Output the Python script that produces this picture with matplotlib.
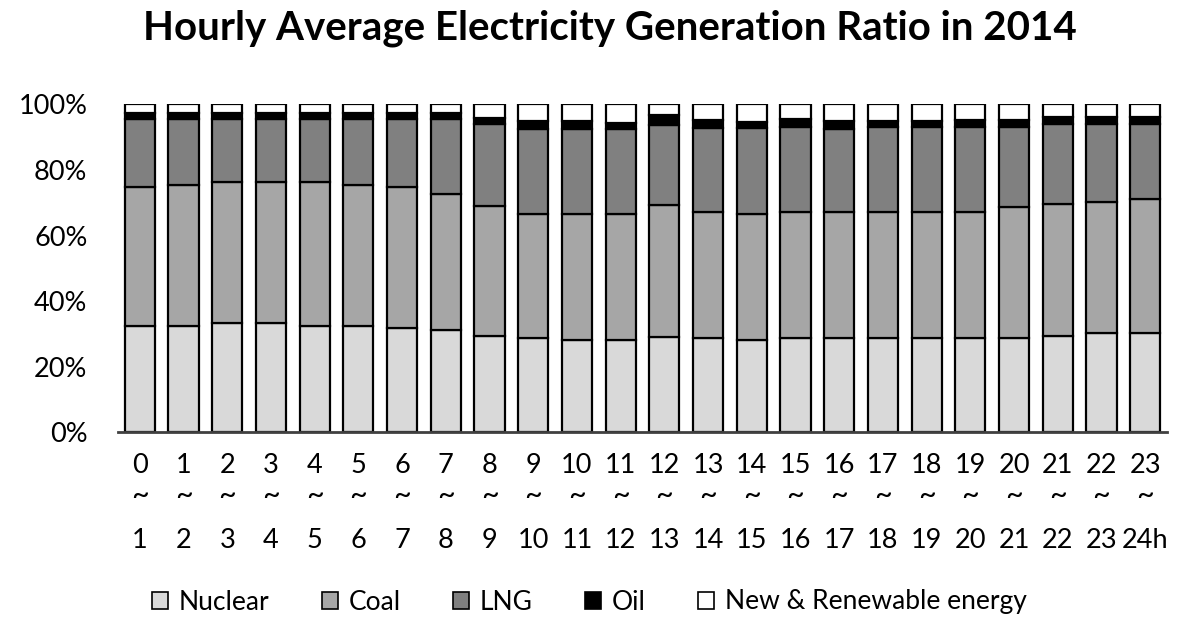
import matplotlib
matplotlib.use("Agg")
import matplotlib.pyplot as plt
import numpy as np

plt.rcParams['font.family'] = ['Lato', 'DejaVu Sans']

hours_start = [str(h) for h in range(24)]
hours_end = [str(h) for h in range(1, 24)] + ['24h']
series_names = ['Nuclear', 'Coal', 'LNG', 'Oil', 'New & Renewable energy']

nuclear = [32.5, 32.5, 33.2, 33.2, 32.5, 32.5, 31.8, 31.2, 29.4, 28.7, 28.1, 28.1,
           29.2, 28.7, 28.1, 28.7, 28.7, 28.7, 28.7, 28.7, 28.7, 29.4, 30.2, 30.2]
coal = [42.4, 43.0, 43.0, 43.0, 43.7, 43.0, 43.1, 41.4, 39.6, 37.9, 38.5, 38.5,
        40.1, 38.4, 38.5, 38.4, 38.4, 38.4, 38.4, 38.4, 40.1, 40.1, 40.1, 40.9]
lng = [20.5, 19.9, 19.2, 19.2, 19.2, 19.9, 20.5, 22.8, 24.9, 25.8, 25.8, 25.8,
       24.4, 25.6, 26.1, 26.1, 25.3, 26.1, 26.1, 26.1, 24.4, 24.4, 23.6, 22.8]
oil = [2.0, 2.0, 2.0, 2.0, 2.0, 2.0, 2.0, 2.0, 2.0, 2.6, 2.6, 1.8,
       3.0, 2.5, 2.0, 2.3, 2.6, 1.8, 1.8, 2.0, 2.0, 2.3, 2.2, 2.2]
renewable = [2.6, 2.6, 2.6, 2.6, 2.6, 2.6, 2.6, 2.6, 4.1, 5.0, 5.0, 5.8,
             3.3, 4.8, 5.3, 4.5, 5.0, 5.0, 5.0, 4.8, 4.8, 3.8, 3.9, 3.9]

colors = ['#d9d9d9', '#a6a6a6', '#808080', '#000000', '#ffffff']

fig = plt.figure(figsize=(11.91, 6.28), dpi=100)
ax = fig.add_axes([118/1191, 1-432.3/628, (1167-118)/1191, 328/628])

x = np.arange(len(hours_start))
bottom = np.zeros(len(x))
for vals, col, name in zip([nuclear, coal, lng, oil, renewable], colors, series_names):
    ax.bar(x, vals, width=0.69, bottom=bottom, color=col, edgecolor='black',
           linewidth=1.6, label=name, zorder=2)
    bottom += np.array(vals)

ax.set_xlim(-0.5, 23.5)
ax.set_ylim(0, 100)
ax.set_yticks([0, 20, 40, 60, 80, 100])
ax.set_yticklabels(['0%', '20%', '40%', '60%', '80%', '100%'], fontsize=19.5)
ax.tick_params(axis='y', length=0, pad=22)
ax.set_xticks([])
for s in ['left', 'right', 'top']:
    ax.spines[s].set_visible(False)
ax.spines['bottom'].set_color('#404040')
ax.spines['bottom'].set_linewidth(2)

trans = ax.get_xaxis_transform()
for i in range(len(x)):
    ax.text(x[i], -0.10, hours_start[i], transform=trans, ha='center', va='center', fontsize=19.5)
    ax.text(x[i], -0.19, '~', transform=trans, ha='center', va='center', fontsize=22)
    ax.text(x[i], -0.33, hours_end[i], transform=trans, ha='center', va='center', fontsize=19.5)

fig.suptitle('Hourly Average Electricity Generation Ratio in 2014', x=0.512, y=0.955,
             va='center', fontsize=29, fontweight='bold')

leg = fig.legend(loc='center', bbox_to_anchor=(0.495, 1-602/628), ncol=5, frameon=False,
                 fontsize=19, handlelength=0.6, handleheight=0.6, handletextpad=0.4,
                 columnspacing=2.0)
for h in leg.legend_handles:
    h.set_linewidth(1.2)

fig.savefig('out.png', dpi=100)
